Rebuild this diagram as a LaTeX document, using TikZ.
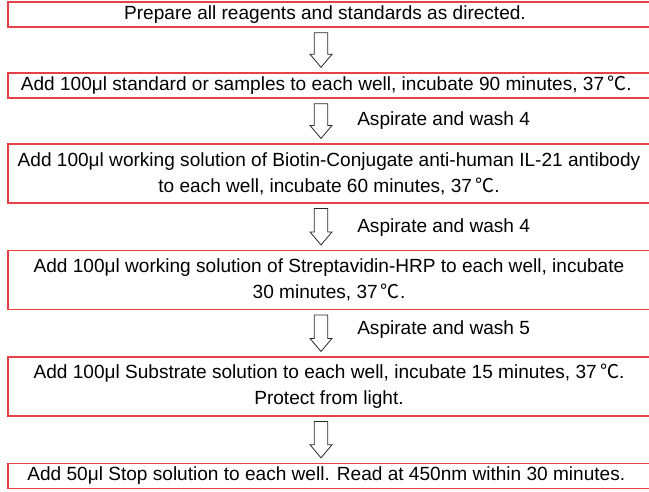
\documentclass[tikz,border=0pt]{standalone}
\usepackage{fontspec}
\setmainfont{Liberation Sans}
\newfontfamily\cjk{Noto Sans CJK SC}
\usetikzlibrary{calc}
\definecolor{boxred}{RGB}{230,66,70}
\definecolor{arrgray}{RGB}{40,40,40}
\newcommand\degC{\,{\cjk ℃}}
% hollow block arrow between two boxes, centred at x = 321px
\newcommand\harrow[2]{\draw[hollowarr] let \p1=(#1.south), \p2=(#2.north), \p3=(321,0) in
  (\x3-5pt,\y1-3.75pt) -- (\x3-5pt,\y2+13.5pt) -- (\x3-8.25pt,\y2+13.5pt) --
  (\x3,\y2+3.75pt) -- (\x3+8.25pt,\y2+13.5pt) -- (\x3+5pt,\y2+13.5pt) --
  (\x3+5pt,\y1-3.75pt) -- cycle;}
\begin{document}
\begin{tikzpicture}[x=0.75pt,y=-0.75pt,
  stepbox/.style={draw=boxred,line width=1.1pt,minimum width=481.5pt,align=center,inner sep=0pt,
    font=\fontsize{14.3}{19.5}\selectfont},
  onebox/.style={stepbox,minimum height=18.75pt},
  twobox/.style={stepbox,minimum height=44pt},
  hollowarr/.style={draw=arrgray,line width=0.6pt,line join=miter},
  washlabel/.style={anchor=west,inner sep=0pt,font=\fontsize{14.3}{16}\selectfont}]
\useasboundingbox (0,0) rectangle (649,492);
\node[onebox] (b1) at (329,14.5) {\hspace*{-6pt}Prepare all reagents and standards as directed.};
\node[onebox] (b2) at (329,85.5) {\hspace*{-4pt}Add 100μl standard or samples to each well, incubate 90 minutes, 37\degC.};
\node[twobox] (b3) at (329,173.5) {Add 100μl working solution of Biotin-Conjugate anti-human IL-21 antibody\\to each well, incubate 60 minutes, 37\degC.};
\node[twobox] (b4) at (329,280) {Add 100μl working solution of Streptavidin-HRP to each well, incubate\\30 minutes, 37\degC.};
\node[twobox] (b5) at (329,386.5) {Add 100μl Substrate solution to each well, incubate 15 minutes, 37\degC.\\Protect from light.};
\node[onebox] (b6) at (329,476) {\hspace*{-4pt}Add 50μl Stop solution to each well. Read at 450nm within 30 minutes.};
\harrow{b1}{b2}
\harrow{b2}{b3}
\harrow{b3}{b4}
\harrow{b4}{b5}
\harrow{b5}{b6}
\node[washlabel] (w2) at (357,121) {Aspirate and wash 4};
\node[washlabel] (w3) at (357,228) {Aspirate and wash 4};
\node[washlabel] (w4) at (357,330) {Aspirate and wash 5};
\end{tikzpicture}
\end{document}
